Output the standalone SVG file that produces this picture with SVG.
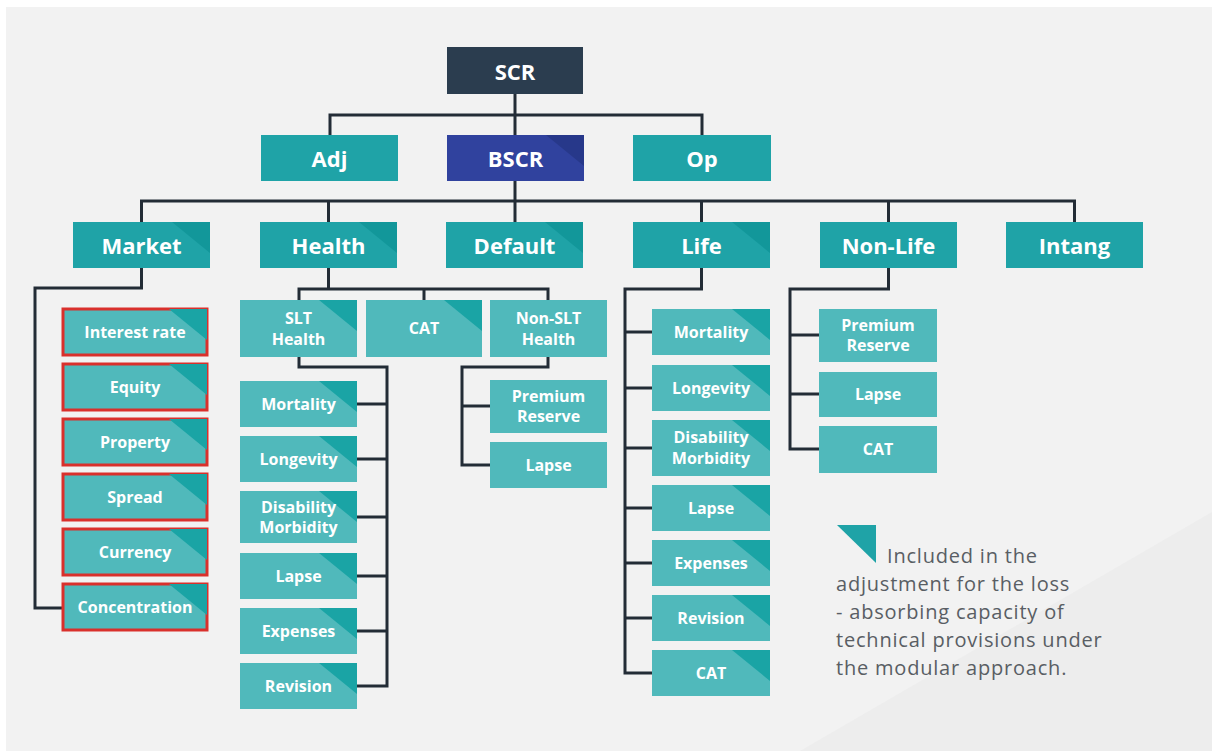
<svg xmlns="http://www.w3.org/2000/svg" width="1212" height="751" viewBox="0 0 1212 751">
  <style>
    .bg { fill: #f2f2f2; }
    .top { fill: #2b3d4f; }
    .blue { fill: #30429e; }
    .main { fill: #1fa3a7; }
    .sub { fill: #50b9bb; }
    .red { stroke: #d9302c; stroke-width: 3; }
    .tri-main { fill: #12979a; }
    .tri-blue { fill: #27388a; }
    .tri-sub { fill: #1aa4a5; }
    .lbl { font-family: "Open Sans", "Liberation Sans", sans-serif; font-weight: 700; fill: #ffffff; text-anchor: middle; dominant-baseline: central; }
    .big { font-size: 22px; }
    .small { font-size: 16px; }
    .wire { fill: none; stroke: #232c36; stroke-width: 3; stroke-linejoin: miter; }
    .note { font-family: "Open Sans", "Liberation Sans", sans-serif; font-size: 20px; letter-spacing: 0.8px; fill: #595e64; }
  </style>
  <defs>
    <!-- corner flag, drawn relative to the top-right corner of a box -->
    <polygon id="flag" points="-38,0 0,0 0,31"/>
  </defs>

  <!-- backdrop -->
  <rect x="0" y="0" width="1212" height="751" fill="#ffffff"/>
  <rect class="bg" x="6" y="7" width="1206" height="744"/>
  <polygon points="1212,512 1212,751 800,751" fill="#ededed"/>

  <!-- connectors -->
  <g id="connectors" class="wire">
    <path d="M515,94 V135 M330,135 V115 H702 V135"/>
    <path d="M515,181 V222 M141.5,222 V201 H1074.5 V222 M328.5,201 V222 M701.5,201 V222 M888.5,201 V222"/>
    <path d="M141.5,268 V288 H35 V608 H62"/>
    <path d="M328.5,268 V289 M299,300 V289 H548 V300 M424,289 V300"/>
    <path d="M299,357 V367 H387 V686 H357 M357,404 H387 M357,459 H387 M357,517 H387 M357,576 H387 M357,631 H387"/>
    <path d="M548,357 V367 H462 V465 H490 M462,406 H490"/>
    <path d="M701.5,268 V289 H625 V673 H652 M625,332 H652 M625,388 H652 M625,448 H652 M625,508 H652 M625,563 H652 M625,618 H652"/>
    <path d="M888.5,268 V289 H790 V449 H819 M790,335 H819 M790,394 H819"/>
  </g>

  <!-- top level -->
  <g id="scr"><rect class="top" x="447" y="47" width="136" height="47"/><text class="lbl big" x="515" y="71">SCR</text></g>
  <g id="adj"><rect class="main" x="261" y="135" width="137" height="46"/><text class="lbl big" x="329.5" y="158">Adj</text></g>
  <g id="bscr"><rect class="blue" x="447" y="135" width="137" height="46"/><use href="#flag" class="tri-blue" x="584" y="135"/><text class="lbl big" x="515.5" y="158">BSCR</text></g>
  <g id="op"><rect class="main" x="633" y="135" width="138" height="46"/><text class="lbl big" x="702" y="158">Op</text></g>

  <!-- risk modules -->
  <g id="market"><rect class="main" x="73" y="222" width="137" height="46"/><use href="#flag" class="tri-main" x="210" y="222"/><text class="lbl big" x="141.5" y="245">Market</text></g>
  <g id="health"><rect class="main" x="260" y="222" width="137" height="46"/><use href="#flag" class="tri-main" x="397" y="222"/><text class="lbl big" x="328.5" y="245">Health</text></g>
  <g id="default"><rect class="main" x="446" y="222" width="137" height="46"/><use href="#flag" class="tri-main" x="583" y="222"/><text class="lbl big" x="514.5" y="245">Default</text></g>
  <g id="life"><rect class="main" x="633" y="222" width="137" height="46"/><use href="#flag" class="tri-main" x="770" y="222"/><text class="lbl big" x="701.5" y="245">Life</text></g>
  <g id="nonlife"><rect class="main" x="820" y="222" width="137" height="46"/><text class="lbl big" x="888.5" y="245">Non-Life</text></g>
  <g id="intang"><rect class="main" x="1006" y="222" width="137" height="46"/><text class="lbl big" x="1074.5" y="245">Intang</text></g>

  <!-- market sub-modules -->
  <g id="m-interest"><rect class="sub red" x="63" y="309" width="144" height="46"/><use href="#flag" class="tri-sub" x="207" y="309"/><text class="lbl small" x="135" y="332">Interest rate</text></g>
  <g id="m-equity"><rect class="sub red" x="63" y="364" width="144" height="46"/><use href="#flag" class="tri-sub" x="207" y="364"/><text class="lbl small" x="135" y="387">Equity</text></g>
  <g id="m-property"><rect class="sub red" x="63" y="419" width="144" height="46"/><use href="#flag" class="tri-sub" x="207" y="419"/><text class="lbl small" x="135" y="442">Property</text></g>
  <g id="m-spread"><rect class="sub red" x="63" y="474" width="144" height="46"/><use href="#flag" class="tri-sub" x="207" y="474"/><text class="lbl small" x="135" y="497">Spread</text></g>
  <g id="m-currency"><rect class="sub red" x="63" y="529" width="144" height="46"/><use href="#flag" class="tri-sub" x="207" y="529"/><text class="lbl small" x="135" y="552">Currency</text></g>
  <g id="m-concentration"><rect class="sub red" x="63" y="584" width="144" height="46"/><use href="#flag" class="tri-sub" x="207" y="584"/><text class="lbl small" x="135" y="607">Concentration</text></g>

  <!-- health sub-modules -->
  <g id="h-slt"><rect class="sub" x="240" y="300" width="117" height="57"/><use href="#flag" class="tri-sub" x="357" y="300"/><text class="lbl small" x="298.5" y="318">SLT</text><text class="lbl small" x="298.5" y="339">Health</text></g>
  <g id="h-cat"><rect class="sub" x="366" y="300" width="116" height="57"/><use href="#flag" class="tri-sub" x="482" y="300"/><text class="lbl small" x="424" y="328">CAT</text></g>
  <g id="h-nonslt"><rect class="sub" x="490" y="300" width="117" height="57"/><text class="lbl small" x="548.5" y="318">Non-SLT</text><text class="lbl small" x="548.5" y="339">Health</text></g>

  <g id="slt-mortality"><rect class="sub" x="240" y="381" width="117" height="46"/><use href="#flag" class="tri-sub" x="357" y="381"/><text class="lbl small" x="298.5" y="404">Mortality</text></g>
  <g id="slt-longevity"><rect class="sub" x="240" y="436" width="117" height="46"/><use href="#flag" class="tri-sub" x="357" y="436"/><text class="lbl small" x="298.5" y="459">Longevity</text></g>
  <g id="slt-disability"><rect class="sub" x="240" y="491" width="117" height="52"/><use href="#flag" class="tri-sub" x="357" y="491"/><text class="lbl small" x="298.5" y="507">Disability</text><text class="lbl small" x="298.5" y="527">Morbidity</text></g>
  <g id="slt-lapse"><rect class="sub" x="240" y="553" width="117" height="46"/><use href="#flag" class="tri-sub" x="357" y="553"/><text class="lbl small" x="298.5" y="576">Lapse</text></g>
  <g id="slt-expenses"><rect class="sub" x="240" y="608" width="117" height="46"/><use href="#flag" class="tri-sub" x="357" y="608"/><text class="lbl small" x="298.5" y="631">Expenses</text></g>
  <g id="slt-revision"><rect class="sub" x="240" y="663" width="117" height="46"/><use href="#flag" class="tri-sub" x="357" y="663"/><text class="lbl small" x="298.5" y="686">Revision</text></g>

  <g id="nslt-premium"><rect class="sub" x="490" y="380" width="117" height="53"/><text class="lbl small" x="548.5" y="396">Premium</text><text class="lbl small" x="548.5" y="416">Reserve</text></g>
  <g id="nslt-lapse"><rect class="sub" x="490" y="442" width="117" height="46"/><text class="lbl small" x="548.5" y="465">Lapse</text></g>

  <!-- life sub-modules -->
  <g id="l-mortality"><rect class="sub" x="652" y="309" width="118" height="46"/><use href="#flag" class="tri-sub" x="770" y="309"/><text class="lbl small" x="711" y="332">Mortality</text></g>
  <g id="l-longevity"><rect class="sub" x="652" y="365" width="118" height="46"/><use href="#flag" class="tri-sub" x="770" y="365"/><text class="lbl small" x="711" y="388">Longevity</text></g>
  <g id="l-disability"><rect class="sub" x="652" y="420" width="118" height="56"/><use href="#flag" class="tri-sub" x="770" y="420"/><text class="lbl small" x="711" y="437">Disability</text><text class="lbl small" x="711" y="458">Morbidity</text></g>
  <g id="l-lapse"><rect class="sub" x="652" y="485" width="118" height="46"/><use href="#flag" class="tri-sub" x="770" y="485"/><text class="lbl small" x="711" y="508">Lapse</text></g>
  <g id="l-expenses"><rect class="sub" x="652" y="540" width="118" height="46"/><use href="#flag" class="tri-sub" x="770" y="540"/><text class="lbl small" x="711" y="563">Expenses</text></g>
  <g id="l-revision"><rect class="sub" x="652" y="595" width="118" height="46"/><use href="#flag" class="tri-sub" x="770" y="595"/><text class="lbl small" x="711" y="618">Revision</text></g>
  <g id="l-cat"><rect class="sub" x="652" y="650" width="118" height="46"/><use href="#flag" class="tri-sub" x="770" y="650"/><text class="lbl small" x="711" y="673">CAT</text></g>

  <!-- non-life sub-modules -->
  <g id="nl-premium"><rect class="sub" x="819" y="309" width="118" height="53"/><text class="lbl small" x="878" y="325">Premium</text><text class="lbl small" x="878" y="345">Reserve</text></g>
  <g id="nl-lapse"><rect class="sub" x="819" y="372" width="118" height="45"/><text class="lbl small" x="878" y="394">Lapse</text></g>
  <g id="nl-cat"><rect class="sub" x="819" y="426" width="118" height="47"/><text class="lbl small" x="878" y="449">CAT</text></g>

  <!-- legend -->
  <g id="legend">
    <polygon points="837,525 876,525 876,563" fill="#1fa3a7"/>
    <text class="note" x="887" y="563">Included in the</text>
    <text class="note" x="836" y="591">adjustment for the loss</text>
    <text class="note" x="836" y="619">- absorbing capacity of</text>
    <text class="note" x="836" y="647">technical provisions under</text>
    <text class="note" x="836" y="675">the modular approach.</text>
  </g>
</svg>
